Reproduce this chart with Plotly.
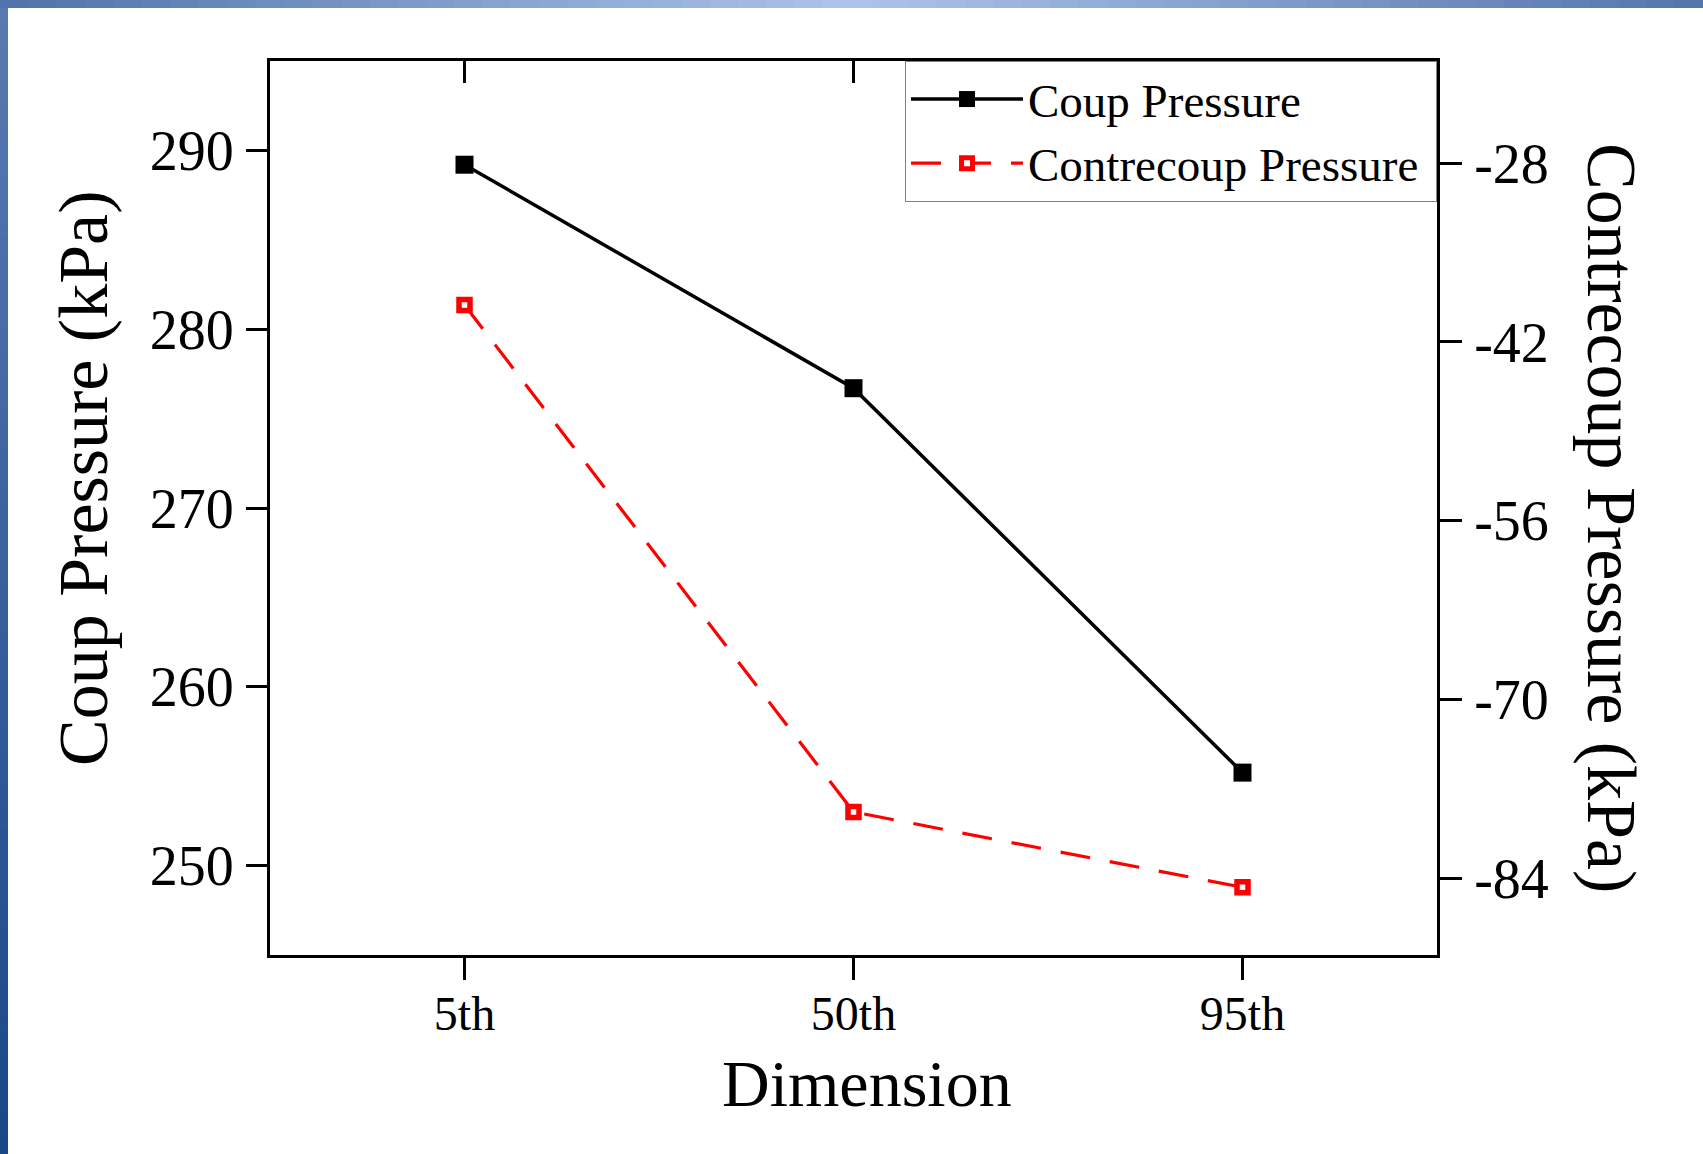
import plotly.graph_objects as go

# ---- data ----
categories = ["5th", "50th", "95th"]
coup_pressure = [289.2, 276.7, 255.2]
contrecoup_pressure = [-39.1, -78.8, -84.7]
coup_ticks = [250, 260, 270, 280, 290]
contrecoup_ticks = [-84, -70, -56, -42, -28]

# ---- geometry (pixels) ----
W, H = 1703, 1154
L, R, T, B = 270, 1437, 61, 955
PW, PH = R - L, B - T


def px(x):
    return (x - L) / PW


def py(y):
    return (B - y) / PH


FONT = "Liberation Serif, Times New Roman, serif"
xpos = list(range(len(categories)))

fig = go.Figure()
fig.add_trace(go.Scatter(
    x=xpos, y=coup_pressure, name="Coup Pressure", mode="lines+markers",
    line=dict(color="black", width=3.5),
    marker=dict(symbol="square", size=18, color="black", line=dict(width=0)),
    xaxis="x", yaxis="y"))
fig.add_trace(go.Scatter(
    x=xpos, y=contrecoup_pressure, name="Contrecoup Pressure&nbsp;", mode="lines+markers",
    line=dict(color="#ff0000", width=3.2, dash="30px,20px"),
    marker=dict(symbol="square", size=11, color="white",
                line=dict(width=5.5, color="#ff0000")),
    xaxis="x", yaxis="y2"))
# helper trace so the top (inward-tick) axis is drawn
fig.add_trace(go.Scatter(x=xpos, y=[None] * len(xpos), xaxis="x2", yaxis="y",
                         showlegend=False, hoverinfo="skip", mode="lines"))

axis_common = dict(showgrid=False, zeroline=False, color="black",
                   tickcolor="black", tickwidth=3, linecolor="black", linewidth=3)

fig.update_layout(
    width=W, height=H, autosize=False,
    margin=dict(l=L, r=W - R, t=T, b=H - B, pad=0),
    paper_bgcolor="white", plot_bgcolor="white",
    font=dict(family=FONT, color="black"),
    showlegend=True,
    xaxis=dict(range=[-0.5, 2.5], tickmode="array", tickvals=xpos, ticktext=categories,
               ticks="outside", ticklen=22, showline=True, mirror=True,
               tickfont=dict(size=48, family=FONT), ticklabelstandoff=-8,
               **axis_common),
    xaxis2=dict(range=[-0.5, 2.5], overlaying="x", side="top", anchor="y",
                tickmode="array", tickvals=xpos, ticks="inside", ticklen=22,
                showticklabels=False, showline=False,
                showgrid=False, zeroline=False, tickcolor="black", tickwidth=3),
    yaxis=dict(range=[245, 295], tickmode="array", tickvals=coup_ticks,
               ticktext=[str(v) for v in coup_ticks],
               ticks="outside", ticklen=21, showline=True, mirror=False,
               tickfont=dict(size=56, family=FONT), ticklabelstandoff=1,
               **axis_common),
    yaxis2=dict(range=[-90, -20], overlaying="y", side="right", anchor="x",
                tickmode="array", tickvals=contrecoup_ticks,
                ticktext=[str(v) for v in contrecoup_ticks],
                ticks="outside", ticklen=22, showline=True,
                tickfont=dict(size=56, family=FONT), ticklabelstandoff=1,
                **axis_common),
    legend=dict(x=1, xanchor="right", y=1, yanchor="top",
                bgcolor="white", bordercolor="#808080", borderwidth=1,
                font=dict(size=47, family=FONT, color="black"),
                itemwidth=112, tracegroupgap=0),
)

# axis titles as annotations
fig.add_annotation(text="Coup Pressure (kPa)", xref="paper", yref="paper",
                   x=px(84), y=py(479), textangle=-90, showarrow=False,
                   xanchor="center", yanchor="middle",
                   font=dict(size=70, family=FONT, color="black"))
fig.add_annotation(text="Contrecoup Pressure (kPa)", xref="paper", yref="paper",
                   x=px(1612), y=py(518), textangle=90, showarrow=False,
                   xanchor="center", yanchor="middle",
                   font=dict(size=70, family=FONT, color="black"))
fig.add_annotation(text="Dimension", xref="paper", yref="paper",
                   x=px(867), y=py(1083), showarrow=False,
                   xanchor="center", yanchor="middle",
                   font=dict(size=66, family=FONT, color="black"))


# decorative gradient frame (top and left)
def lerp(c1, c2, t):
    return "rgb(%d,%d,%d)" % tuple(round(a + (b - a) * t) for a, b in zip(c1, c2))


shapes = []
N = 60
dark_l, light, dark_r = (80, 114, 170), (172, 196, 236), (84, 116, 172)
for i in range(N):
    t = (i + 0.5) / N
    col = lerp(dark_l, light, t * 2) if t < 0.5 else lerp(light, dark_r, (t - 0.5) * 2)
    x0, x1 = W * i / N, W * (i + 1) / N + 1
    shapes.append(dict(type="rect", xref="paper", yref="paper",
                       x0=px(x0), x1=px(x1), y0=py(8), y1=py(0),
                       fillcolor=col, line=dict(width=0), layer="above"))
top_c, bot_c = (88, 122, 178), (26, 70, 136)
for i in range(N):
    t = (i + 0.5) / N
    y0, y1 = 8 + (H - 8) * i / N, 8 + (H - 8) * (i + 1) / N + 1
    shapes.append(dict(type="rect", xref="paper", yref="paper",
                       x0=px(0), x1=px(8), y0=py(y1), y1=py(y0),
                       fillcolor=lerp(top_c, bot_c, t), line=dict(width=0), layer="above"))
fig.update_layout(shapes=shapes)

fig.write_html("out.html")
